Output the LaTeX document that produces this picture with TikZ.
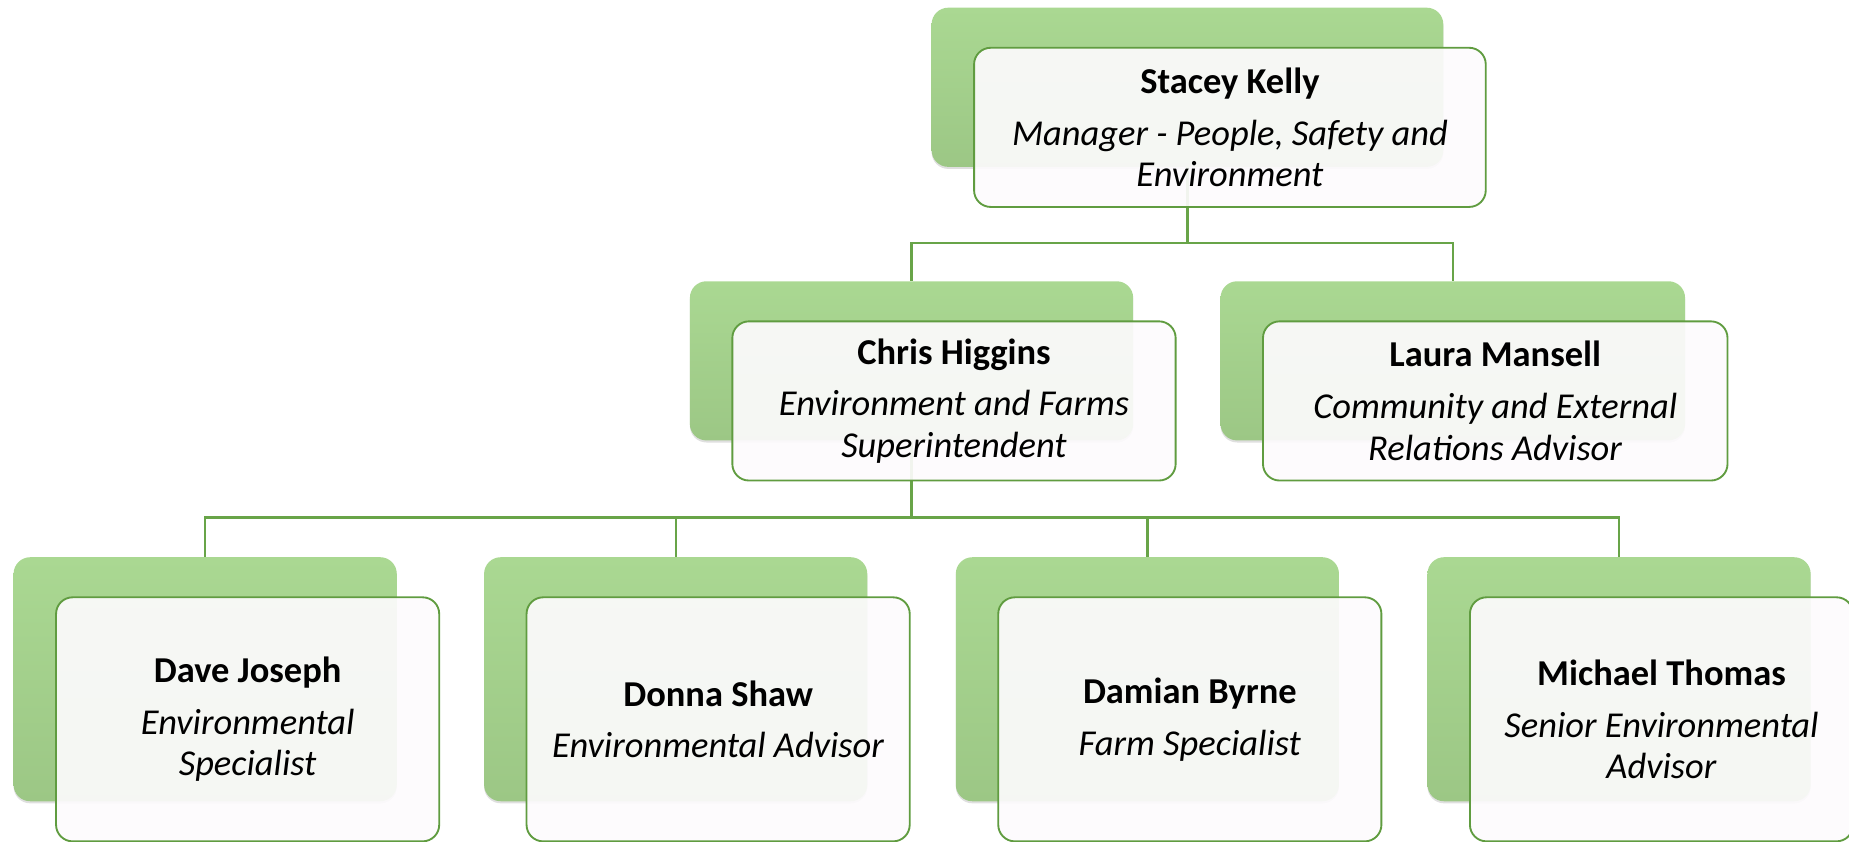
\documentclass[tikz,border=0pt]{standalone}
\usepackage{fontspec}
\setmainfont{Carlito}
\usetikzlibrary{shadows}

\definecolor{boxline}{RGB}{96,156,64}
\definecolor{linkgreen}{RGB}{104,164,72}
\definecolor{backtop}{RGB}{170,216,146}
\definecolor{backbot}{RGB}{156,199,133}
\definecolor{cardfill}{RGB}{253,251,253}

\begin{document}
\begin{tikzpicture}[x=0.02cm,y=-0.02cm,
    back/.style={rounded corners=8pt,top color=backtop,bottom color=backbot,
      draw=none,minimum height=2.7cm,
      drop shadow={shadow xshift=0pt,shadow yshift=-1pt,opacity=.25}},
    card/.style={rounded corners=8pt,draw=boxline,line width=.9pt,fill=cardfill,
      fill opacity=.92,text opacity=1,align=center,minimum height=2.7cm,
      font=\fontsize{17.6}{20}\selectfont},
    link/.style={draw=linkgreen,line width=1.1pt}]
  \useasboundingbox (0,0) rectangle (1568,714);

  % green back plates
  \node (sk) [back,minimum width=8.68cm] at (1007,74) {};
  \node (ch) [back,minimum width=7.52cm] at (773,306) {};
  \node (lm) [back,minimum width=7.88cm] at (1232,306) {};
  \node (dj) [back,minimum width=6.5cm,minimum height=4.14cm] at (174,576) {};
  \node (ds) [back,minimum width=6.5cm,minimum height=4.14cm] at (573,576) {};
  \node (db) [back,minimum width=6.5cm,minimum height=4.14cm] at (973,576) {};
  \node (mt) [back,minimum width=6.5cm,minimum height=4.14cm] at (1373,576) {};

  % reporting lines
  \path ([shift={(36,34)}]sk.south) +(0,30) coordinate (bus1);
  \draw[link] (sk.south) |- (bus1) -| (ch.north);
  \draw[link] (bus1) -| (lm.north);
  \path ([shift={(36,34)}]ch.south) +(0,31) coordinate (bus2);
  \draw[link] (ch.south) |- (bus2) -| (dj.north);
  \draw[link] (bus2) -| (ds.north);
  \draw[link] (bus2) -| (db.north);
  \draw[link] (bus2) -| (mt.north);

  % white cards
  \node (skc) [card,minimum width=8.68cm] at ([shift={(36,34)}]sk.center)
    {\textbf{Stacey Kelly}\\[5pt]\textit{Manager - People, Safety and}\\ \textit{Environment}};
  \node (chc) [card,minimum width=7.52cm] at ([shift={(36,34)}]ch.center)
    {\textbf{Chris Higgins}\\[5pt]\textit{Environment and Farms}\\ \textit{Superintendent}};
  \node (lmc) [card,minimum width=7.88cm] at ([shift={(36,34)}]lm.center)
    {\textbf{Laura Mansell}\\[5pt]\textit{Community and External}\\ \textit{Relations Advisor}};
  \node (djc) [card,minimum width=6.5cm,minimum height=4.14cm] at ([shift={(36,34)}]dj.center)
    {\textbf{Dave Joseph}\\[5pt]\textit{Environmental}\\ \textit{Specialist}};
  \node (dsc) [card,minimum width=6.5cm,minimum height=4.14cm] at ([shift={(36,34)}]ds.center)
    {\textbf{Donna Shaw}\\[5pt]\textit{Environmental Advisor}};
  \node (dbc) [card,minimum width=6.5cm,minimum height=4.14cm] at ([shift={(36,34)}]db.center)
    {\textbf{Damian Byrne}\\[5pt]\textit{Farm Specialist}};
  \node (mtc) [card,minimum width=6.5cm,minimum height=4.14cm] at ([shift={(36,34)}]mt.center)
    {\textbf{Michael Thomas}\\[5pt]\textit{Senior Environmental}\\ \textit{Advisor}};
\end{tikzpicture}
\end{document}
